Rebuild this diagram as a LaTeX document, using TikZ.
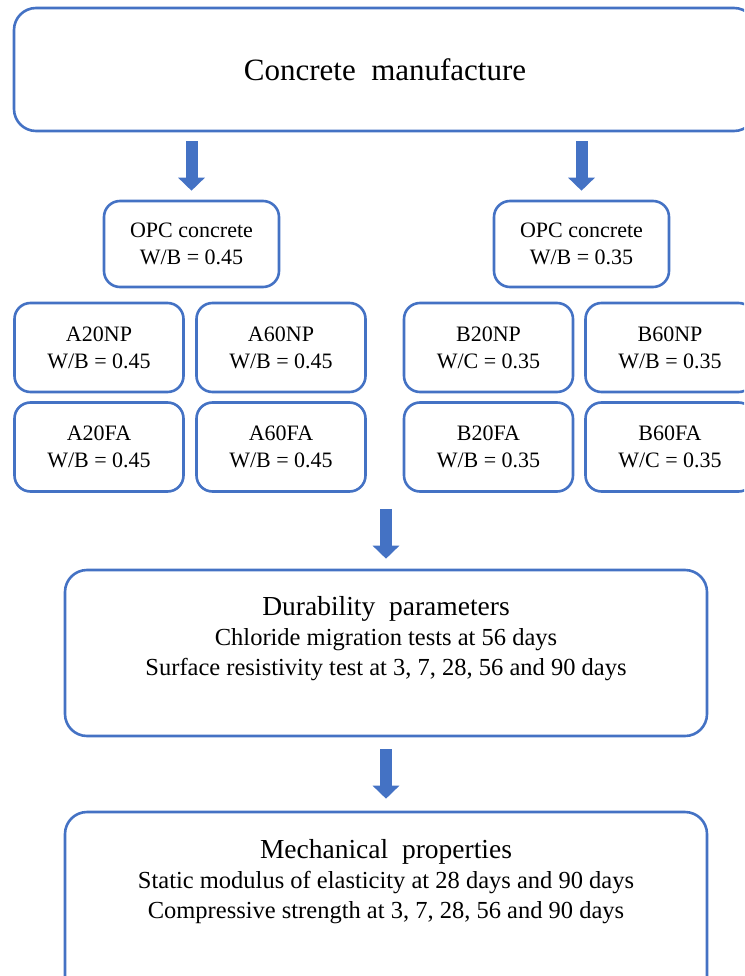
\documentclass[tikz,border=0pt]{standalone}
\usepackage{fontspec}
\setmainfont{Liberation Serif}
\usetikzlibrary{arrows.meta}
\definecolor{boxblue}{HTML}{4472C4}

\begin{document}
\begin{tikzpicture}[x=1pt, y=-1pt,
  box/.style={draw=boxblue, line width=2.6pt, rounded corners=16pt, align=center,
    inner sep=0pt, font=\fontsize{22}{27}\selectfont},
  mix/.style={box, minimum width=169pt, minimum height=89pt},
  big/.style={box, rounded corners=22pt},
  txt/.style={align=center, inner sep=0pt, font=\fontsize{24.5}{30}\selectfont},
  arr/.style={boxblue, line width=12pt, -{Triangle[width=26pt, length=13pt]},
    shorten <=9pt, shorten >=9pt},
]
\useasboundingbox (0,0) rectangle (744,976);
\clip (0,0) rectangle (744,976);

% Row 0: manufacture
\node (manu) [big, minimum width=742pt, minimum height=123pt,
  font=\fontsize{31}{36}\selectfont] at (385,69.5) {Concrete\ \ manufacture};

% Row 1: OPC concretes
\node (opcA) [box, minimum width=175pt, minimum height=86pt] at (191.5,244) {OPC concrete\\W/B = 0.45};
\node (opcB) [box, minimum width=175pt, minimum height=86pt] at (581.5,244) {OPC concrete\\W/B = 0.35};
\draw[arr] (manu.south -| opcA.north) -- (opcA.north);
\draw[arr] (manu.south -| opcB.north) -- (opcB.north);

% Row 2: NP mixes
\node (a20np) [mix] at (99,347.5) {A20NP\\W/B = 0.45};
\node (a60np) [mix] at (281,347.5) {A60NP\\W/B = 0.45};
\node (b20np) [mix] at (488.5,347.5) {B20NP\\W/C = 0.35};
\node (b60np) [mix] at (670,347.5) {B60NP\\W/B = 0.35};

% Row 3: FA mixes
\node (a20fa) [mix] at (99,447) {A20FA\\W/B = 0.45};
\node (a60fa) [mix] at (281,447) {A60FA\\W/B = 0.45};
\node (b20fa) [mix] at (488.5,447) {B20FA\\W/B = 0.35};
\node (b60fa) [mix] at (670,447) {B60FA\\W/C = 0.35};

% Row 4: durability
\node (dur) [big, minimum width=642pt, minimum height=166pt] at (386,653) {};
\node (durtext) [txt] at (386,639) {{\fontsize{27.5}{30}\selectfont Durability\ \ parameters}\\
  Chloride migration tests at 56 days\\
  Surface resistivity test at 3, 7, 28, 56 and 90 days};
\draw[arr, shorten <=16pt, shorten >=10pt] (dur.north |- a60fa.south) -- (dur.north);

% Row 5: mechanical
\node (mech) [big, minimum width=642pt, minimum height=188pt] at (386,906) {};
\node (mechtext) [txt] at (386,881.5) {{\fontsize{27.5}{30}\selectfont Mechanical\ \ properties}\\
  Static modulus of elasticity at 28 days and 90 days\\
  Compressive strength at 3, 7, 28, 56 and 90 days};
\draw[arr, shorten <=12pt, shorten >=12pt] (dur.south) -- (mech.north);

\end{tikzpicture}
\end{document}
